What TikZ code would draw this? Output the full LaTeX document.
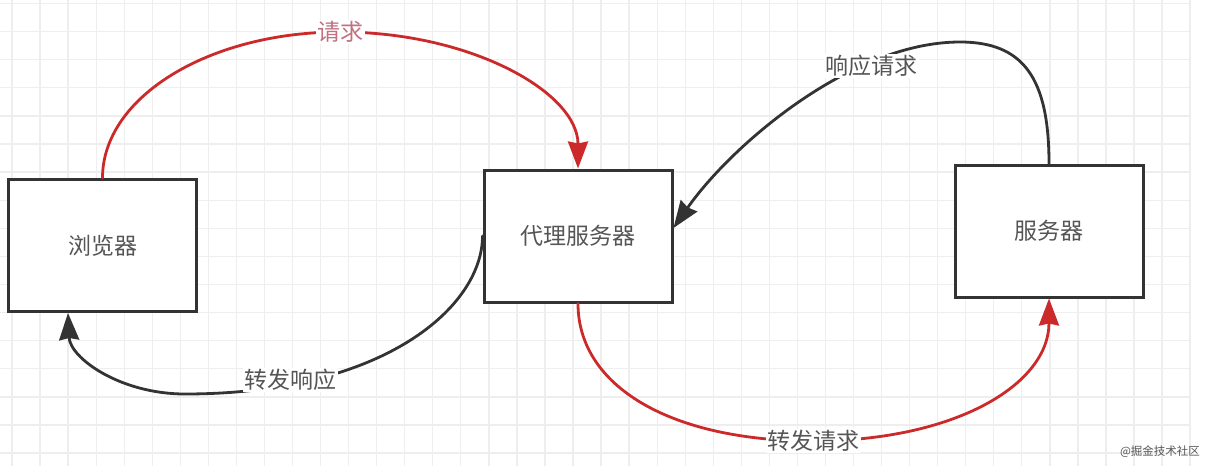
\documentclass[tikz,border=0pt]{standalone}
\usepackage{fontspec}
\newfontfamily\cjk{Noto Sans CJK SC}
\usetikzlibrary{arrows.meta,calc}
\definecolor{gridc}{HTML}{EEEEEE}
\definecolor{boxc}{HTML}{333333}
\definecolor{txtc}{HTML}{555555}
\definecolor{redc}{HTML}{CC2A2A}
\definecolor{reqc}{HTML}{C07080}
\begin{document}
\begin{tikzpicture}[x=1pt,y=-1pt,
  gridline/.style={draw=gridc, line width=1.3pt},
  box/.style={draw=boxc, line width=3pt, fill=white, minimum width=188pt, minimum height=132pt,
    inner sep=0pt, font=\cjk\fontsize{23}{23}\selectfont, text=txtc},
  lbl/.style={fill=white, inner sep=1.5pt, font=\cjk\fontsize{23}{23}\selectfont, text=txtc},
  arrowtip/.style={-{Stealth[length=27pt,width=20pt,inset=2pt]}},
  redline/.style={arrowtip, draw=redc, line width=2.8pt, line cap=round},
  blackline/.style={arrowtip, draw=boxc, line width=2.8pt, line cap=round}
]
\useasboundingbox (0,0) rectangle (1210,466);
\fill[white] (0,0) rectangle (1210,466);
% grid
\foreach \i in {0,...,42} \draw[gridline] ({12+28.05*\i},0) -- ({12+28.05*\i},466);
\foreach \j in {0,...,16} \draw[gridline] (0,{3.5+28.1*\j}) -- (1190,{3.5+28.1*\j});
% boxes
\node[box] (b) at (102.5,245.5) {浏览器};
\node[box] (p) at (578,236) {代理服务器};
\node[box] (s) at (1049,231) {服务器};
% helper coordinates
\coordinate (c1) at (340,32);
\coordinate (c2) at (960,42);
\coordinate (c3) at (185,394);
\coordinate (c4) at (813,441);
\coordinate (e2) at ($(p.east)+(0,-8)$);
\coordinate (e3) at ($(b.south)+(-34.5,0)$);
% connectors
\draw[redline] (b.north) .. controls +(0,-81) and +(-131,0) .. (c1)
  .. controls +(131,0) and +(0,-76) .. (p.north);
\draw[blackline] (s.north) .. controls +(0,-86) and +(63,0) .. (c2)
  .. controls +(-110,0) and +(56.5,-81) .. (e2);
\draw[blackline] (p.west) .. controls +(0,70) and +(200,0) .. (c3)
  .. controls +(-65,0) and +(2,45) .. (e3);
\draw[redline] (p.south) .. controls +(0,83) and +(-142,0) .. (c4)
  .. controls +(142,0) and +(0,86) .. (s.south);
% labels
\node[lbl, text=reqc] (l1) at (c1) {请求};
\node[lbl] (l2) at (871,66) {响应请求};
\node[lbl] (l3) at (290,380) {转发响应};
\node[lbl] (l4) at (c4) {转发请求};
\node[font=\cjk\fontsize{11.5}{11.5}\selectfont, text=txtc, inner sep=0pt] (wm) at (1160,452) {@掘金技术社区};
\end{tikzpicture}
\end{document}
